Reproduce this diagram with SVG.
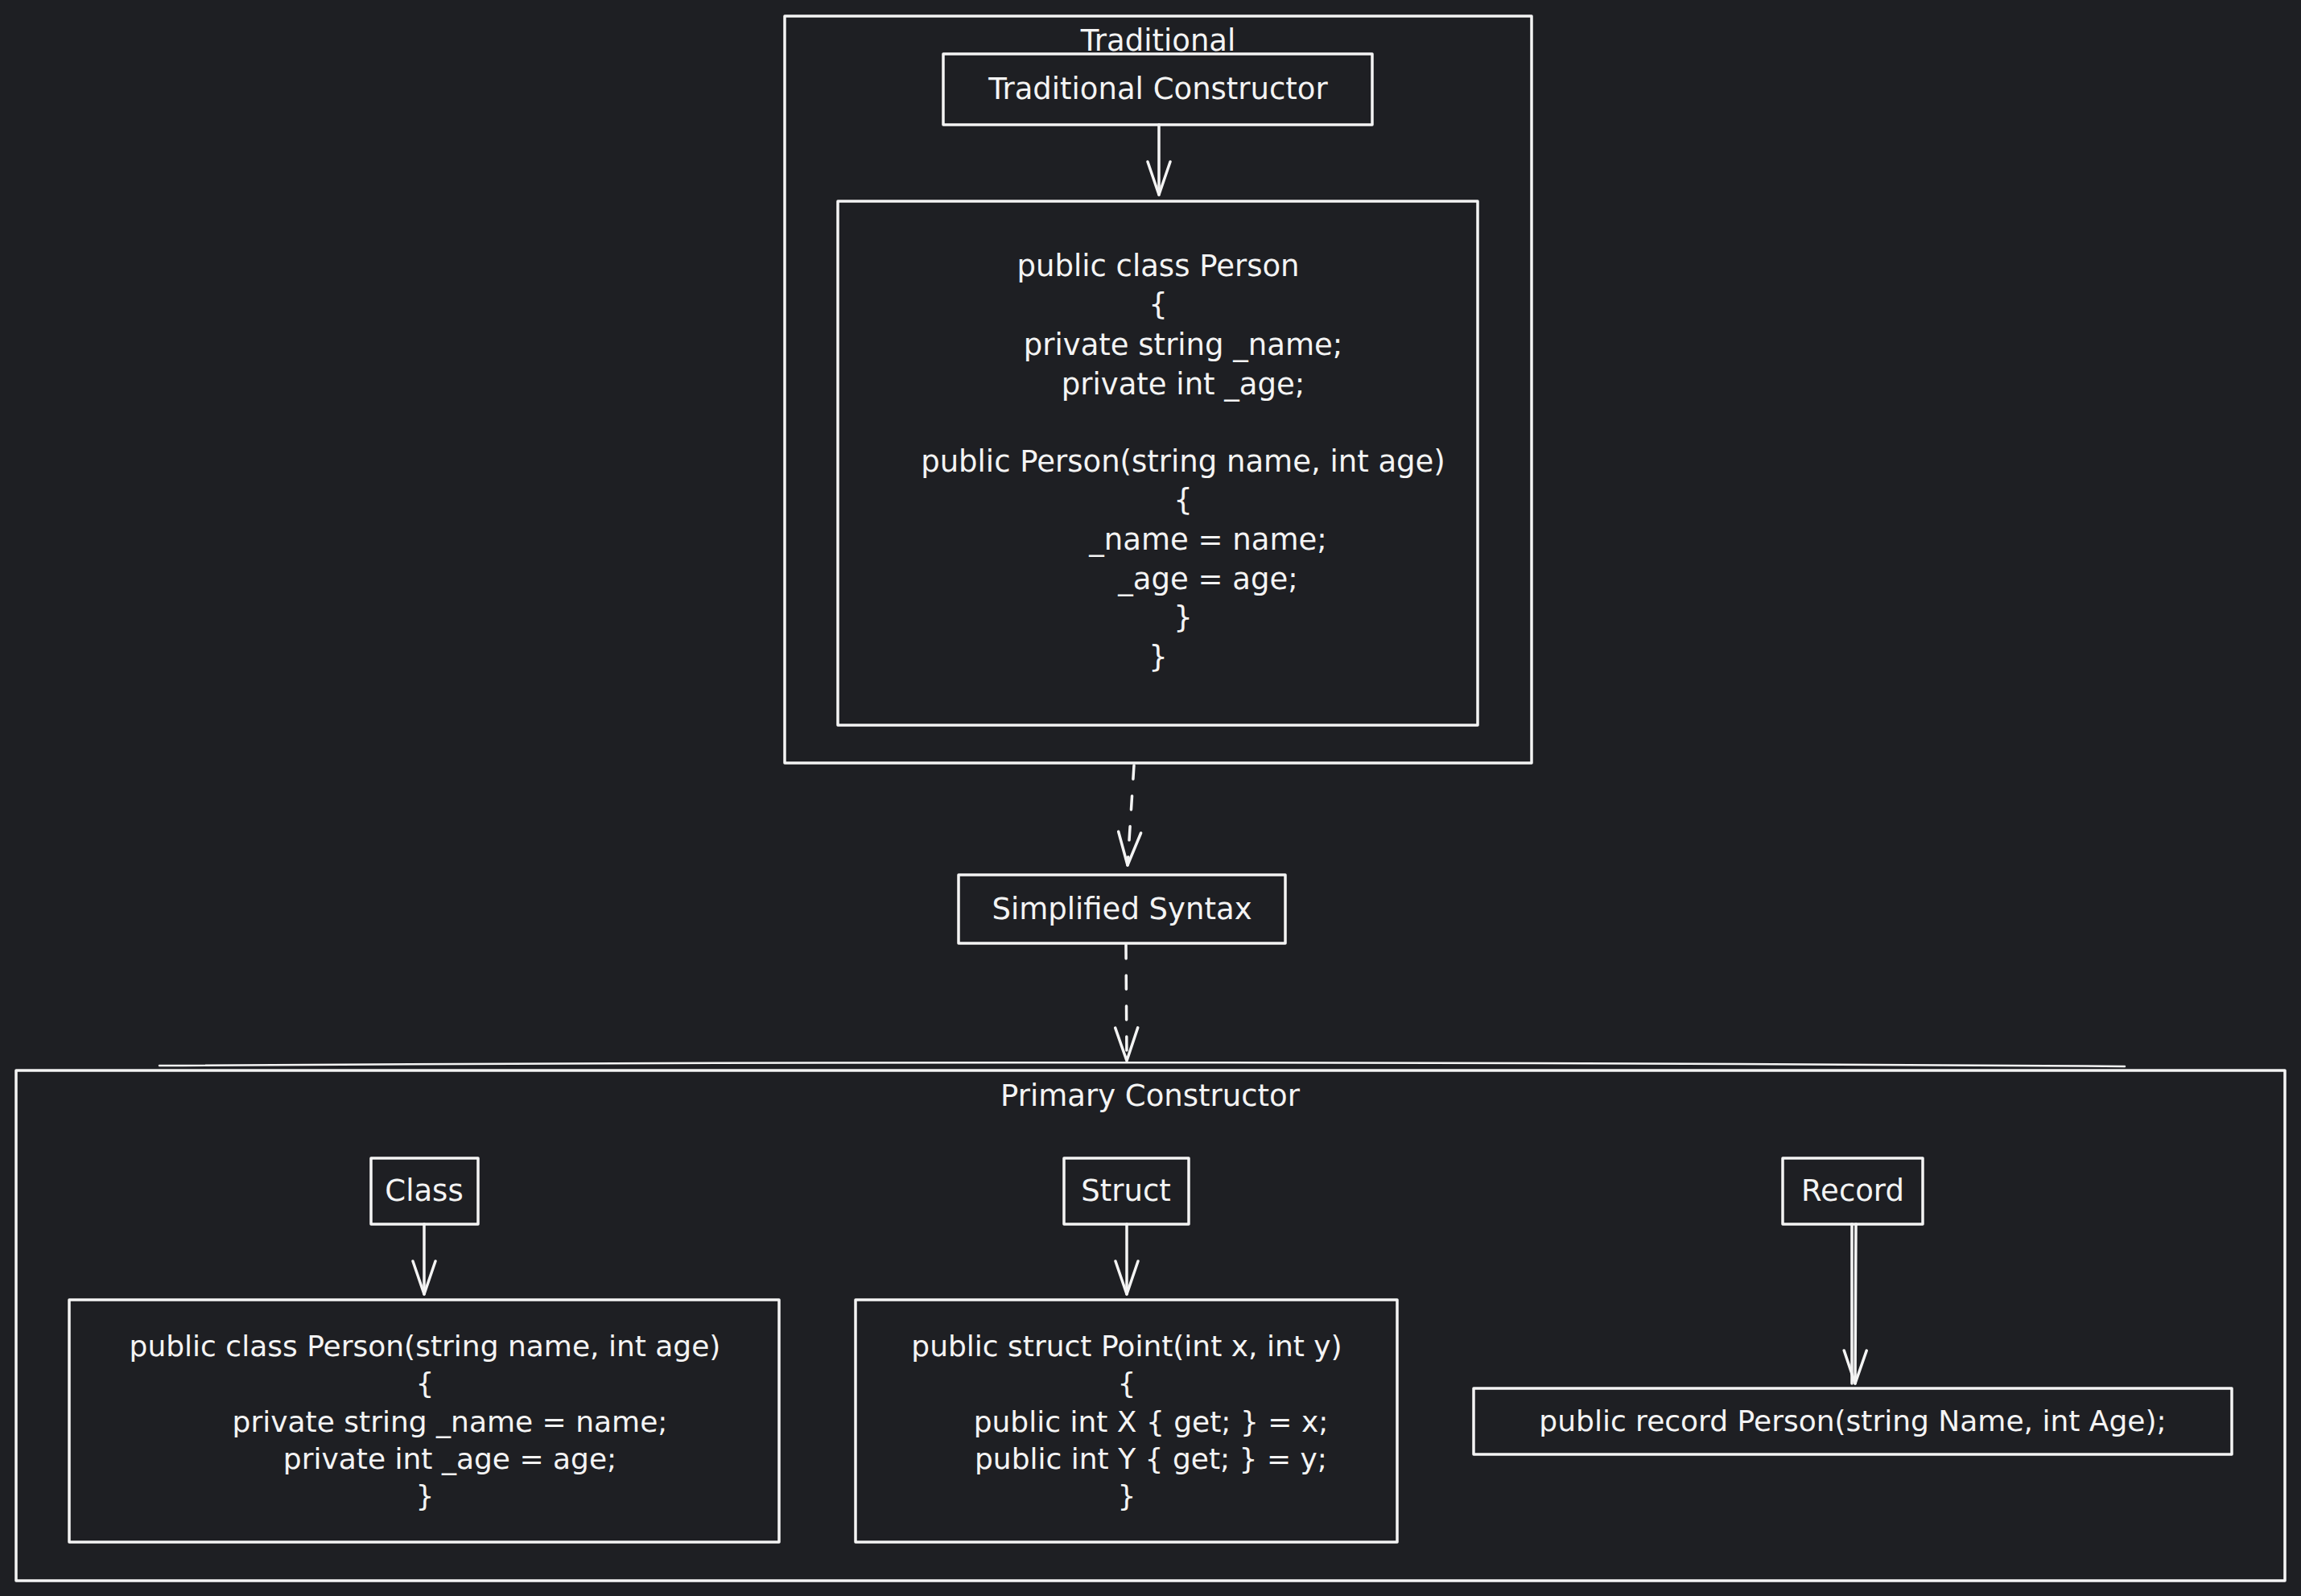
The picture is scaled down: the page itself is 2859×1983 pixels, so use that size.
<svg xmlns="http://www.w3.org/2000/svg" width="2859" height="1983" viewBox="0 0 2859 1983">
<style>
.box{fill:#1e1f23;stroke:#f4f4f4;stroke-width:3.5;stroke-linejoin:round}
.sk{fill:none;stroke:#f4f4f4;stroke-width:2.5;stroke-linecap:round}
.lbl{font-family:"DejaVu Sans",sans-serif;font-size:37px;fill:#f4f4f4;text-anchor:middle;dominant-baseline:central}
.code{font-family:"DejaVu Sans",sans-serif;font-size:37px;fill:#f4f4f4;text-anchor:middle;dominant-baseline:central}
.code2{font-family:"DejaVu Sans",sans-serif;font-size:36px;fill:#f4f4f4;text-anchor:middle;dominant-baseline:central}
.edge{fill:none;stroke:#f4f4f4;stroke-width:3.5;stroke-linecap:round}
.dash{stroke-dasharray:17 21}
</style>
<defs>
<marker id="arrow" viewBox="0 0 46 34" refX="44" refY="17" markerWidth="46" markerHeight="34" orient="auto" markerUnits="userSpaceOnUse">
<path d="M3,3 L44,17 L3,31" fill="none" stroke="#f4f4f4" stroke-width="3.5" stroke-linecap="round" stroke-linejoin="round"/>
</marker>
</defs>
<rect x="0" y="0" width="2859" height="1983" fill="#1e1f23"/>

<g id="traditional-group">
<rect class="box" x="975" y="20" width="928" height="928"/>
<text class="lbl" x="1439" y="50">Traditional</text>
</g>

<g id="traditional-constructor">
<rect class="box" x="1172" y="67" width="533" height="88"/>
<text class="lbl" x="1439" y="110">Traditional Constructor</text>
</g>

<g id="traditional-code">
<rect class="box" x="1041" y="250" width="795" height="651"/>
<text class="code" x="1439" y="330">public class Person</text>
<text class="code" x="1439" y="378">{</text>
<text class="code" x="1470" y="428">private string _name;</text>
<text class="code" x="1470" y="477">private int _age;</text>
<text class="code" x="1470" y="573">public Person(string name, int age)</text>
<text class="code" x="1470" y="621">{</text>
<text class="code" x="1501" y="670">_name = name;</text>
<text class="code" x="1501" y="719">_age = age;</text>
<text class="code" x="1470" y="767">}</text>
<text class="code" x="1439" y="816">}</text>
</g>

<g id="simplified-syntax">
<rect class="box" x="1191" y="1087" width="406" height="85"/>
<text class="lbl" x="1394" y="1129">Simplified Syntax</text>
</g>

<g id="primary-group">
<rect class="box" x="20" y="1330" width="2819" height="634"/>
<path class="sk" d="M198,1324 Q1420,1316 2640,1325"/>
<text class="lbl" x="1429" y="1361">Primary Constructor</text>
</g>

<g id="class-node">
<rect class="box" x="461" y="1439" width="133" height="82"/>
<text class="lbl" x="527" y="1479">Class</text>
</g>

<g id="class-code">
<rect class="box" x="86" y="1615" width="882" height="301"/>
<text class="code2" x="528" y="1672">public class Person(string name, int age)</text>
<text class="code2" x="528" y="1718">{</text>
<text class="code2" x="559" y="1766">private string _name = name;</text>
<text class="code2" x="559" y="1812">private int _age = age;</text>
<text class="code2" x="528" y="1858">}</text>
</g>

<g id="struct-node">
<rect class="box" x="1322" y="1439" width="155" height="82"/>
<text class="lbl" x="1399" y="1479">Struct</text>
</g>

<g id="struct-code">
<rect class="box" x="1063" y="1615" width="673" height="301"/>
<text class="code2" x="1400" y="1672">public struct Point(int x, int y)</text>
<text class="code2" x="1400" y="1718">{</text>
<text class="code2" x="1430" y="1766">public int X { get; } = x;</text>
<text class="code2" x="1430" y="1812">public int Y { get; } = y;</text>
<text class="code2" x="1400" y="1858">}</text>
</g>

<g id="record-node">
<rect class="box" x="2215" y="1439" width="174" height="82"/>
<text class="lbl" x="2302" y="1479">Record</text>
</g>

<g id="record-code">
<rect class="box" x="1831" y="1725" width="942" height="82"/>
<text class="code2" x="2302" y="1765">public record Person(string Name, int Age);</text>
</g>

<g id="connectors">
<path class="edge" d="M1440,155 L1440,242" marker-end="url(#arrow)"/>
<path class="edge dash" d="M1409,951 L1401,1075" marker-end="url(#arrow)"/>
<path class="edge dash" d="M1399,1174 L1400,1318" marker-end="url(#arrow)"/>
<path class="edge" d="M527,1521 L527,1608" marker-end="url(#arrow)"/>
<path class="edge" d="M1400,1521 L1400,1608" marker-end="url(#arrow)"/>
<path class="edge" d="M2301,1521 L2301,1719"/>
<path class="edge" d="M2306,1521 L2305,1719" marker-end="url(#arrow)"/>
</g>
</svg>
